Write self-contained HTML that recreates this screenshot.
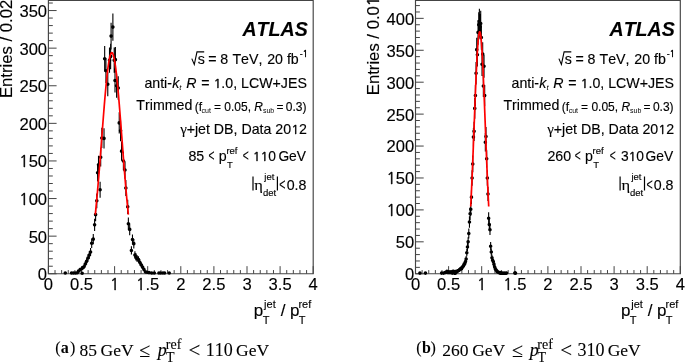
<!DOCTYPE html>
<html><head><meta charset="utf-8"><style>
html,body{margin:0;padding:0;background:#fff;}
svg{display:block;}
text{fill:#000;font-kerning:none;font-variant-ligatures:none;stroke:#000;stroke-width:0.14px;}
.t{font-family:"Liberation Sans",Arial,sans-serif;font-size:16.6px;}
.s{font-family:"Liberation Sans",Arial,sans-serif;}
.i{font-family:"Liberation Sans",Arial,sans-serif;font-style:italic;}
.atlas{font-family:"Liberation Sans",Arial,sans-serif;font-weight:bold;font-style:italic;}
.c,.g{font-family:"Liberation Serif","Times New Roman",serif;stroke-width:0.1px;}
.cb{font-family:"Liberation Serif","Times New Roman",serif;font-weight:bold;stroke:none;}
.ci{font-family:"Liberation Serif","Times New Roman",serif;font-style:italic;}
.one{font-family:NanumGothic,sans-serif;stroke-width:0.45px;font-size:0.925em;}
</style></head><body>
<svg width="685" height="362" viewBox="0 0 685 362">
<rect width="685" height="362" fill="#fff"/>
<path d="M48.4 0.5 H313.2 V273.75 H48.4 Z" fill="none" stroke="#444" stroke-width="1.15"/>
<path d="M48.4 273.75h8.2 M48.4 266.23h4.4 M48.4 258.71h4.4 M48.4 251.19h4.4 M48.4 243.67h4.4 M48.4 236.15h8.2 M48.4 228.63h4.4 M48.4 221.11h4.4 M48.4 213.59h4.4 M48.4 206.07h4.4 M48.4 198.55h8.2 M48.4 191.03h4.4 M48.4 183.51h4.4 M48.4 175.99h4.4 M48.4 168.47h4.4 M48.4 160.95h8.2 M48.4 153.43h4.4 M48.4 145.91h4.4 M48.4 138.39h4.4 M48.4 130.87h4.4 M48.4 123.35h8.2 M48.4 115.83h4.4 M48.4 108.31h4.4 M48.4 100.79h4.4 M48.4 93.27h4.4 M48.4 85.75h8.2 M48.4 78.23h4.4 M48.4 70.71h4.4 M48.4 63.19h4.4 M48.4 55.67h4.4 M48.4 48.15h8.2 M48.4 40.63h4.4 M48.4 33.11h4.4 M48.4 25.59h4.4 M48.4 18.07h4.4 M48.4 10.55h8.2 M48.4 3.03h4.4 M48.4 273.75v-7.6 M55.02 273.75v-3.7 M61.64 273.75v-3.7 M68.26 273.75v-3.7 M74.88 273.75v-3.7 M81.5 273.75v-7.6 M88.12 273.75v-3.7 M94.74 273.75v-3.7 M101.36 273.75v-3.7 M107.98 273.75v-3.7 M114.6 273.75v-7.6 M121.22 273.75v-3.7 M127.84 273.75v-3.7 M134.46 273.75v-3.7 M141.08 273.75v-3.7 M147.7 273.75v-7.6 M154.32 273.75v-3.7 M160.94 273.75v-3.7 M167.56 273.75v-3.7 M174.18 273.75v-3.7 M180.8 273.75v-7.6 M187.42 273.75v-3.7 M194.04 273.75v-3.7 M200.66 273.75v-3.7 M207.28 273.75v-3.7 M213.9 273.75v-7.6 M220.52 273.75v-3.7 M227.14 273.75v-3.7 M233.76 273.75v-3.7 M240.38 273.75v-3.7 M247 273.75v-7.6 M253.62 273.75v-3.7 M260.24 273.75v-3.7 M266.86 273.75v-3.7 M273.48 273.75v-3.7 M280.1 273.75v-7.6 M286.72 273.75v-3.7 M293.34 273.75v-3.7 M299.96 273.75v-3.7 M306.58 273.75v-3.7 M313.2 273.75v-7.6" stroke="#444" stroke-width="1" fill="none"/>
<text x="47.1" y="280.15" text-anchor="end" class="t">0</text>
<text x="47.1" y="242.55" text-anchor="end" class="t">50</text>
<text x="47.1" y="204.95" text-anchor="end" class="t"><tspan class="one">1</tspan>00</text>
<text x="47.1" y="167.35" text-anchor="end" class="t"><tspan class="one">1</tspan>50</text>
<text x="47.1" y="129.75" text-anchor="end" class="t">200</text>
<text x="47.1" y="92.15" text-anchor="end" class="t">250</text>
<text x="47.1" y="54.55" text-anchor="end" class="t">300</text>
<text x="47.1" y="16.95" text-anchor="end" class="t">350</text>
<text x="48.4" y="289.75" text-anchor="middle" class="t">0</text>
<text x="81.5" y="289.75" text-anchor="middle" class="t">0.5</text>
<text x="114.6" y="289.75" text-anchor="middle" class="t"><tspan class="one">1</tspan></text>
<text x="147.7" y="289.75" text-anchor="middle" class="t"><tspan class="one">1</tspan>.5</text>
<text x="180.8" y="289.75" text-anchor="middle" class="t">2</text>
<text x="213.9" y="289.75" text-anchor="middle" class="t">2.5</text>
<text x="247" y="289.75" text-anchor="middle" class="t">3</text>
<text x="280.1" y="289.75" text-anchor="middle" class="t">3.5</text>
<text x="313.2" y="289.75" text-anchor="middle" class="t">4</text>
<path d="M415.5 0.5 H680.3 V273.75 H415.5 Z" fill="none" stroke="#444" stroke-width="1.15"/>
<path d="M415.5 273.75h8.2 M415.5 267.37h4.4 M415.5 260.98h4.4 M415.5 254.59h4.4 M415.5 248.21h4.4 M415.5 241.82h8.2 M415.5 235.44h4.4 M415.5 229.06h4.4 M415.5 222.67h4.4 M415.5 216.28h4.4 M415.5 209.9h8.2 M415.5 203.51h4.4 M415.5 197.13h4.4 M415.5 190.75h4.4 M415.5 184.36h4.4 M415.5 177.98h8.2 M415.5 171.59h4.4 M415.5 165.21h4.4 M415.5 158.82h4.4 M415.5 152.44h4.4 M415.5 146.05h8.2 M415.5 139.67h4.4 M415.5 133.28h4.4 M415.5 126.9h4.4 M415.5 120.51h4.4 M415.5 114.12h8.2 M415.5 107.74h4.4 M415.5 101.36h4.4 M415.5 94.97h4.4 M415.5 88.59h4.4 M415.5 82.2h8.2 M415.5 75.82h4.4 M415.5 69.43h4.4 M415.5 63.05h4.4 M415.5 56.66h4.4 M415.5 50.28h8.2 M415.5 43.89h4.4 M415.5 37.51h4.4 M415.5 31.12h4.4 M415.5 24.74h4.4 M415.5 18.35h8.2 M415.5 11.97h4.4 M415.5 5.58h4.4 M415.5 273.75v-7.6 M422.12 273.75v-3.7 M428.74 273.75v-3.7 M435.36 273.75v-3.7 M441.98 273.75v-3.7 M448.6 273.75v-7.6 M455.22 273.75v-3.7 M461.84 273.75v-3.7 M468.46 273.75v-3.7 M475.08 273.75v-3.7 M481.7 273.75v-7.6 M488.32 273.75v-3.7 M494.94 273.75v-3.7 M501.56 273.75v-3.7 M508.18 273.75v-3.7 M514.8 273.75v-7.6 M521.42 273.75v-3.7 M528.04 273.75v-3.7 M534.66 273.75v-3.7 M541.28 273.75v-3.7 M547.9 273.75v-7.6 M554.52 273.75v-3.7 M561.14 273.75v-3.7 M567.76 273.75v-3.7 M574.38 273.75v-3.7 M581 273.75v-7.6 M587.62 273.75v-3.7 M594.24 273.75v-3.7 M600.86 273.75v-3.7 M607.48 273.75v-3.7 M614.1 273.75v-7.6 M620.72 273.75v-3.7 M627.34 273.75v-3.7 M633.96 273.75v-3.7 M640.58 273.75v-3.7 M647.2 273.75v-7.6 M653.82 273.75v-3.7 M660.44 273.75v-3.7 M667.06 273.75v-3.7 M673.68 273.75v-3.7 M680.3 273.75v-7.6" stroke="#444" stroke-width="1" fill="none"/>
<text x="414.2" y="280.15" text-anchor="end" class="t">0</text>
<text x="414.2" y="248.22" text-anchor="end" class="t">50</text>
<text x="414.2" y="216.3" text-anchor="end" class="t"><tspan class="one">1</tspan>00</text>
<text x="414.2" y="184.38" text-anchor="end" class="t"><tspan class="one">1</tspan>50</text>
<text x="414.2" y="152.45" text-anchor="end" class="t">200</text>
<text x="414.2" y="120.53" text-anchor="end" class="t">250</text>
<text x="414.2" y="88.6" text-anchor="end" class="t">300</text>
<text x="414.2" y="56.68" text-anchor="end" class="t">350</text>
<text x="414.2" y="24.75" text-anchor="end" class="t">400</text>
<text x="415.5" y="289.75" text-anchor="middle" class="t">0</text>
<text x="448.6" y="289.75" text-anchor="middle" class="t">0.5</text>
<text x="481.7" y="289.75" text-anchor="middle" class="t"><tspan class="one">1</tspan></text>
<text x="514.8" y="289.75" text-anchor="middle" class="t"><tspan class="one">1</tspan>.5</text>
<text x="547.9" y="289.75" text-anchor="middle" class="t">2</text>
<text x="581" y="289.75" text-anchor="middle" class="t">2.5</text>
<text x="614.1" y="289.75" text-anchor="middle" class="t">3</text>
<text x="647.2" y="289.75" text-anchor="middle" class="t">3.5</text>
<text x="680.3" y="289.75" text-anchor="middle" class="t">4</text>
<path d="M65.28 272.25V273.75M71.57 272.25V273.75M73.42 272.25V273.75M75.34 272.25V273.75M77.33 271.91V273.63M78.52 269.71V272.52M80.18 267.85V271.38M82.16 272.72V273.75M82.49 266.05V270.17M83.95 264.38V268.99M85.27 261.26V266.69M86.6 258.29V264.4M87.99 254.51V261.4M89.31 251.19V258.71M90.57 247.89V255.99M91.69 238.51V248.08M93.28 234.06V244.26M94.61 218.81V230.93M95.6 207.98V221.31M96.79 193.4V208.21M97.59 163.96V181.4M98.51 155.65V173.77M100.1 181.8V197.7M100.7 147.83V166.55M101.82 127.83V148.04M104.01 128.3V148.48M104.67 45.96V71.4M105.93 58.35V83.07M107.78 72.31V96.18M109.5 47.51V72.85M110.63 43.64V69.21M111.09 22.75V49.49M112.88 13.47V40.71M114.2 47.51V72.85M115 68.43V92.54M115.39 46.97V72.34M116.59 73.86V97.64M118.24 76.19V99.82M119.23 112.25V133.55M120.56 120.5V141.24M121.55 141.57V160.77M123.4 151.74V170.16M124.99 161.14V178.81M125.85 179.99V196.05M127.71 199.73V213.92M128.37 217.61V229.87M129.69 223.61V235.16M131.41 246.25V254.62M132.47 234.46V244.61M133.8 238.91V248.43M134.92 251.19V258.71M135.92 253.26V260.4M137.11 255.35V262.07M138.5 256.18V262.74M139.89 259.56V265.38M141.41 262.55V267.65M142.67 265.17V269.55M143.99 267.76V271.32M145.38 270.68V273.06M147.04 271.18V273.31M149.02 271.7V273.54M151.67 272.25V273.75M154.32 272.25V273.75M158.95 272.25V273.75M160.61 272.25V273.75M162.93 272.25V273.75M164.58 272.25V273.75M169.22 272.25V273.75" stroke="#000" stroke-width="1.1" fill="none"/>
<path d="M63.48 273a1.8 1.8 0 1 0 3.6 0a1.8 1.8 0 1 0 -3.6 0M69.77 273a1.8 1.8 0 1 0 3.6 0a1.8 1.8 0 1 0 -3.6 0M71.62 273a1.8 1.8 0 1 0 3.6 0a1.8 1.8 0 1 0 -3.6 0M73.54 273a1.8 1.8 0 1 0 3.6 0a1.8 1.8 0 1 0 -3.6 0M75.53 272.77a1.8 1.8 0 1 0 3.6 0a1.8 1.8 0 1 0 -3.6 0M76.72 271.12a1.8 1.8 0 1 0 3.6 0a1.8 1.8 0 1 0 -3.6 0M78.38 269.61a1.8 1.8 0 1 0 3.6 0a1.8 1.8 0 1 0 -3.6 0M80.36 273.3a1.8 1.8 0 1 0 3.6 0a1.8 1.8 0 1 0 -3.6 0M80.69 268.11a1.8 1.8 0 1 0 3.6 0a1.8 1.8 0 1 0 -3.6 0M82.15 266.68a1.8 1.8 0 1 0 3.6 0a1.8 1.8 0 1 0 -3.6 0M83.47 263.97a1.8 1.8 0 1 0 3.6 0a1.8 1.8 0 1 0 -3.6 0M84.8 261.34a1.8 1.8 0 1 0 3.6 0a1.8 1.8 0 1 0 -3.6 0M86.19 257.96a1.8 1.8 0 1 0 3.6 0a1.8 1.8 0 1 0 -3.6 0M87.51 254.95a1.8 1.8 0 1 0 3.6 0a1.8 1.8 0 1 0 -3.6 0M88.77 251.94a1.8 1.8 0 1 0 3.6 0a1.8 1.8 0 1 0 -3.6 0M89.89 243.29a1.8 1.8 0 1 0 3.6 0a1.8 1.8 0 1 0 -3.6 0M91.48 239.16a1.8 1.8 0 1 0 3.6 0a1.8 1.8 0 1 0 -3.6 0M92.81 224.87a1.8 1.8 0 1 0 3.6 0a1.8 1.8 0 1 0 -3.6 0M93.8 214.64a1.8 1.8 0 1 0 3.6 0a1.8 1.8 0 1 0 -3.6 0M94.99 200.81a1.8 1.8 0 1 0 3.6 0a1.8 1.8 0 1 0 -3.6 0M95.79 172.68a1.8 1.8 0 1 0 3.6 0a1.8 1.8 0 1 0 -3.6 0M96.71 164.71a1.8 1.8 0 1 0 3.6 0a1.8 1.8 0 1 0 -3.6 0M98.3 189.75a1.8 1.8 0 1 0 3.6 0a1.8 1.8 0 1 0 -3.6 0M98.9 157.19a1.8 1.8 0 1 0 3.6 0a1.8 1.8 0 1 0 -3.6 0M100.02 137.94a1.8 1.8 0 1 0 3.6 0a1.8 1.8 0 1 0 -3.6 0M102.21 138.39a1.8 1.8 0 1 0 3.6 0a1.8 1.8 0 1 0 -3.6 0M102.87 58.68a1.8 1.8 0 1 0 3.6 0a1.8 1.8 0 1 0 -3.6 0M104.13 70.71a1.8 1.8 0 1 0 3.6 0a1.8 1.8 0 1 0 -3.6 0M105.98 84.25a1.8 1.8 0 1 0 3.6 0a1.8 1.8 0 1 0 -3.6 0M107.7 60.18a1.8 1.8 0 1 0 3.6 0a1.8 1.8 0 1 0 -3.6 0M108.83 56.42a1.8 1.8 0 1 0 3.6 0a1.8 1.8 0 1 0 -3.6 0M109.29 36.12a1.8 1.8 0 1 0 3.6 0a1.8 1.8 0 1 0 -3.6 0M111.08 27.09a1.8 1.8 0 1 0 3.6 0a1.8 1.8 0 1 0 -3.6 0M112.4 60.18a1.8 1.8 0 1 0 3.6 0a1.8 1.8 0 1 0 -3.6 0M113.2 80.49a1.8 1.8 0 1 0 3.6 0a1.8 1.8 0 1 0 -3.6 0M113.59 59.66a1.8 1.8 0 1 0 3.6 0a1.8 1.8 0 1 0 -3.6 0M114.79 85.75a1.8 1.8 0 1 0 3.6 0a1.8 1.8 0 1 0 -3.6 0M116.44 88.01a1.8 1.8 0 1 0 3.6 0a1.8 1.8 0 1 0 -3.6 0M117.43 122.9a1.8 1.8 0 1 0 3.6 0a1.8 1.8 0 1 0 -3.6 0M118.76 130.87a1.8 1.8 0 1 0 3.6 0a1.8 1.8 0 1 0 -3.6 0M119.75 151.17a1.8 1.8 0 1 0 3.6 0a1.8 1.8 0 1 0 -3.6 0M121.6 160.95a1.8 1.8 0 1 0 3.6 0a1.8 1.8 0 1 0 -3.6 0M123.19 169.97a1.8 1.8 0 1 0 3.6 0a1.8 1.8 0 1 0 -3.6 0M124.05 188.02a1.8 1.8 0 1 0 3.6 0a1.8 1.8 0 1 0 -3.6 0M125.91 206.82a1.8 1.8 0 1 0 3.6 0a1.8 1.8 0 1 0 -3.6 0M126.57 223.74a1.8 1.8 0 1 0 3.6 0a1.8 1.8 0 1 0 -3.6 0M127.89 229.38a1.8 1.8 0 1 0 3.6 0a1.8 1.8 0 1 0 -3.6 0M129.61 250.44a1.8 1.8 0 1 0 3.6 0a1.8 1.8 0 1 0 -3.6 0M130.67 239.53a1.8 1.8 0 1 0 3.6 0a1.8 1.8 0 1 0 -3.6 0M132 243.67a1.8 1.8 0 1 0 3.6 0a1.8 1.8 0 1 0 -3.6 0M133.12 254.95a1.8 1.8 0 1 0 3.6 0a1.8 1.8 0 1 0 -3.6 0M134.12 256.83a1.8 1.8 0 1 0 3.6 0a1.8 1.8 0 1 0 -3.6 0M135.31 258.71a1.8 1.8 0 1 0 3.6 0a1.8 1.8 0 1 0 -3.6 0M136.7 259.46a1.8 1.8 0 1 0 3.6 0a1.8 1.8 0 1 0 -3.6 0M138.09 262.47a1.8 1.8 0 1 0 3.6 0a1.8 1.8 0 1 0 -3.6 0M139.61 265.1a1.8 1.8 0 1 0 3.6 0a1.8 1.8 0 1 0 -3.6 0M140.87 267.36a1.8 1.8 0 1 0 3.6 0a1.8 1.8 0 1 0 -3.6 0M142.19 269.54a1.8 1.8 0 1 0 3.6 0a1.8 1.8 0 1 0 -3.6 0M143.58 271.87a1.8 1.8 0 1 0 3.6 0a1.8 1.8 0 1 0 -3.6 0M145.24 272.25a1.8 1.8 0 1 0 3.6 0a1.8 1.8 0 1 0 -3.6 0M147.22 272.62a1.8 1.8 0 1 0 3.6 0a1.8 1.8 0 1 0 -3.6 0M149.87 273a1.8 1.8 0 1 0 3.6 0a1.8 1.8 0 1 0 -3.6 0M152.52 273a1.8 1.8 0 1 0 3.6 0a1.8 1.8 0 1 0 -3.6 0M157.15 273a1.8 1.8 0 1 0 3.6 0a1.8 1.8 0 1 0 -3.6 0M158.81 273a1.8 1.8 0 1 0 3.6 0a1.8 1.8 0 1 0 -3.6 0M161.13 273a1.8 1.8 0 1 0 3.6 0a1.8 1.8 0 1 0 -3.6 0M162.78 273a1.8 1.8 0 1 0 3.6 0a1.8 1.8 0 1 0 -3.6 0M167.41 273a1.8 1.8 0 1 0 3.6 0a1.8 1.8 0 1 0 -3.6 0" fill="#000"/>
<path d="M419.94 272.47V273.75M425.43 272.47V273.75M441.65 272.47V273.75M443.63 272.47V273.75M444.96 271.57V273.38M445.62 271.57V273.38M446.94 269.92V272.47M447.61 271.57V273.38M448.27 271.57V273.38M448.93 270.73V272.94M449.59 271.57V273.38M450.25 271.57V273.38M450.92 270.73V272.94M452.24 272.47V273.75M452.9 269.92V272.47M453.56 269.92V272.47M454.23 272.47V273.75M454.89 270.73V272.94M455.55 272.47V273.75M456.21 269.92V272.47M456.88 270.73V272.94M457.54 269.92V272.47M458.2 269.13V271.99M458.86 269.13V271.99M459.52 267.82V271.12M460.19 267.59V270.97M460.85 266.84V270.45M461.51 266.84V270.45M462.17 265.35V269.38M462.83 264.61V268.84M463.5 263.51V268.03M464.16 261.7V266.65M464.82 260.98V266.09M465.48 258.84V264.4M466.14 256V262.13M466.81 249.01V256.35M467.47 242.8V251.07M468.13 237.31V246.34M468.79 228.46V238.59M469.45 216.28V227.78M470.12 207.54V219.92M470.78 202.84V215.68M471.44 190.14V204.12M472.1 170.16V185.79M472.76 155.55V172.3M473.43 127.77V146.45M474.09 121.83V140.9M474.75 98.1V118.65M475.41 84.94V106.27M476.07 61.95V84.58M476.74 37.67V61.6M477.4 42.92V66.57M478.06 19.98V44.81M478.72 12.13V37.34M479.38 8.85V34.23M480.05 14.09V39.21M480.71 10.82V36.1M481.37 25.22V49.79M482.03 52.76V75.89M482.69 42.26V65.95M483.36 75.08V96.98M484.02 54.73V77.75M484.68 84.94V106.27M485.34 133.05V151.38M486 127.11V145.83M486.67 150.25V167.39M487.33 170.16V185.79M487.99 186.8V201.08M488.65 212.24V224.16M489.31 218.98V230.19M489.98 224.39V235M490.64 242.11V250.48M491.3 248.32V255.76M491.96 254.59V260.98M492.62 257.42V263.27M493.29 258.84V264.4M493.95 261.7V266.65M494.61 264.61V268.84M495.27 266.84V270.45M495.93 268.36V271.48M496.6 269.13V271.99M497.26 270.73V272.94M497.92 270.73V272.94M498.58 271.57V273.38M499.24 271.57V273.38M499.9 272.47V273.75M500.57 271.57V273.38M501.23 272.47V273.75M502.55 272.47V273.75M503.22 272.47V273.75M504.54 272.47V273.75M505.86 272.47V273.75M506.52 272.47V273.75M514.8 272.47V273.75M515.46 272.47V273.75" stroke="#000" stroke-width="1.1" fill="none"/>
<path d="M418.14 273.11a1.8 1.8 0 1 0 3.6 0a1.8 1.8 0 1 0 -3.6 0M423.63 273.11a1.8 1.8 0 1 0 3.6 0a1.8 1.8 0 1 0 -3.6 0M439.85 273.11a1.8 1.8 0 1 0 3.6 0a1.8 1.8 0 1 0 -3.6 0M441.83 273.11a1.8 1.8 0 1 0 3.6 0a1.8 1.8 0 1 0 -3.6 0M443.16 272.47a1.8 1.8 0 1 0 3.6 0a1.8 1.8 0 1 0 -3.6 0M443.82 272.47a1.8 1.8 0 1 0 3.6 0a1.8 1.8 0 1 0 -3.6 0M445.14 271.2a1.8 1.8 0 1 0 3.6 0a1.8 1.8 0 1 0 -3.6 0M445.81 272.47a1.8 1.8 0 1 0 3.6 0a1.8 1.8 0 1 0 -3.6 0M446.47 272.47a1.8 1.8 0 1 0 3.6 0a1.8 1.8 0 1 0 -3.6 0M447.13 271.83a1.8 1.8 0 1 0 3.6 0a1.8 1.8 0 1 0 -3.6 0M447.79 272.47a1.8 1.8 0 1 0 3.6 0a1.8 1.8 0 1 0 -3.6 0M448.45 272.47a1.8 1.8 0 1 0 3.6 0a1.8 1.8 0 1 0 -3.6 0M449.12 271.83a1.8 1.8 0 1 0 3.6 0a1.8 1.8 0 1 0 -3.6 0M450.44 273.11a1.8 1.8 0 1 0 3.6 0a1.8 1.8 0 1 0 -3.6 0M451.1 271.2a1.8 1.8 0 1 0 3.6 0a1.8 1.8 0 1 0 -3.6 0M451.76 271.2a1.8 1.8 0 1 0 3.6 0a1.8 1.8 0 1 0 -3.6 0M452.43 273.11a1.8 1.8 0 1 0 3.6 0a1.8 1.8 0 1 0 -3.6 0M453.09 271.83a1.8 1.8 0 1 0 3.6 0a1.8 1.8 0 1 0 -3.6 0M453.75 273.11a1.8 1.8 0 1 0 3.6 0a1.8 1.8 0 1 0 -3.6 0M454.41 271.2a1.8 1.8 0 1 0 3.6 0a1.8 1.8 0 1 0 -3.6 0M455.07 271.83a1.8 1.8 0 1 0 3.6 0a1.8 1.8 0 1 0 -3.6 0M455.74 271.2a1.8 1.8 0 1 0 3.6 0a1.8 1.8 0 1 0 -3.6 0M456.4 270.56a1.8 1.8 0 1 0 3.6 0a1.8 1.8 0 1 0 -3.6 0M457.06 270.56a1.8 1.8 0 1 0 3.6 0a1.8 1.8 0 1 0 -3.6 0M457.72 269.47a1.8 1.8 0 1 0 3.6 0a1.8 1.8 0 1 0 -3.6 0M458.38 269.28a1.8 1.8 0 1 0 3.6 0a1.8 1.8 0 1 0 -3.6 0M459.05 268.64a1.8 1.8 0 1 0 3.6 0a1.8 1.8 0 1 0 -3.6 0M459.71 268.64a1.8 1.8 0 1 0 3.6 0a1.8 1.8 0 1 0 -3.6 0M460.37 267.37a1.8 1.8 0 1 0 3.6 0a1.8 1.8 0 1 0 -3.6 0M461.03 266.73a1.8 1.8 0 1 0 3.6 0a1.8 1.8 0 1 0 -3.6 0M461.69 265.77a1.8 1.8 0 1 0 3.6 0a1.8 1.8 0 1 0 -3.6 0M462.36 264.17a1.8 1.8 0 1 0 3.6 0a1.8 1.8 0 1 0 -3.6 0M463.02 263.53a1.8 1.8 0 1 0 3.6 0a1.8 1.8 0 1 0 -3.6 0M463.68 261.62a1.8 1.8 0 1 0 3.6 0a1.8 1.8 0 1 0 -3.6 0M464.34 259.06a1.8 1.8 0 1 0 3.6 0a1.8 1.8 0 1 0 -3.6 0M465 252.68a1.8 1.8 0 1 0 3.6 0a1.8 1.8 0 1 0 -3.6 0M465.67 246.93a1.8 1.8 0 1 0 3.6 0a1.8 1.8 0 1 0 -3.6 0M466.33 241.82a1.8 1.8 0 1 0 3.6 0a1.8 1.8 0 1 0 -3.6 0M466.99 233.52a1.8 1.8 0 1 0 3.6 0a1.8 1.8 0 1 0 -3.6 0M467.65 222.03a1.8 1.8 0 1 0 3.6 0a1.8 1.8 0 1 0 -3.6 0M468.31 213.73a1.8 1.8 0 1 0 3.6 0a1.8 1.8 0 1 0 -3.6 0M468.98 209.26a1.8 1.8 0 1 0 3.6 0a1.8 1.8 0 1 0 -3.6 0M469.64 197.13a1.8 1.8 0 1 0 3.6 0a1.8 1.8 0 1 0 -3.6 0M470.3 177.98a1.8 1.8 0 1 0 3.6 0a1.8 1.8 0 1 0 -3.6 0M470.96 163.93a1.8 1.8 0 1 0 3.6 0a1.8 1.8 0 1 0 -3.6 0M471.62 137.11a1.8 1.8 0 1 0 3.6 0a1.8 1.8 0 1 0 -3.6 0M472.29 131.36a1.8 1.8 0 1 0 3.6 0a1.8 1.8 0 1 0 -3.6 0M472.95 108.38a1.8 1.8 0 1 0 3.6 0a1.8 1.8 0 1 0 -3.6 0M473.61 95.61a1.8 1.8 0 1 0 3.6 0a1.8 1.8 0 1 0 -3.6 0M474.27 73.26a1.8 1.8 0 1 0 3.6 0a1.8 1.8 0 1 0 -3.6 0M474.94 49.64a1.8 1.8 0 1 0 3.6 0a1.8 1.8 0 1 0 -3.6 0M475.6 54.74a1.8 1.8 0 1 0 3.6 0a1.8 1.8 0 1 0 -3.6 0M476.26 32.4a1.8 1.8 0 1 0 3.6 0a1.8 1.8 0 1 0 -3.6 0M476.92 24.74a1.8 1.8 0 1 0 3.6 0a1.8 1.8 0 1 0 -3.6 0M477.58 21.54a1.8 1.8 0 1 0 3.6 0a1.8 1.8 0 1 0 -3.6 0M478.25 26.65a1.8 1.8 0 1 0 3.6 0a1.8 1.8 0 1 0 -3.6 0M478.91 23.46a1.8 1.8 0 1 0 3.6 0a1.8 1.8 0 1 0 -3.6 0M479.57 37.51a1.8 1.8 0 1 0 3.6 0a1.8 1.8 0 1 0 -3.6 0M480.23 64.32a1.8 1.8 0 1 0 3.6 0a1.8 1.8 0 1 0 -3.6 0M480.89 54.11a1.8 1.8 0 1 0 3.6 0a1.8 1.8 0 1 0 -3.6 0M481.56 86.03a1.8 1.8 0 1 0 3.6 0a1.8 1.8 0 1 0 -3.6 0M482.22 66.24a1.8 1.8 0 1 0 3.6 0a1.8 1.8 0 1 0 -3.6 0M482.88 95.61a1.8 1.8 0 1 0 3.6 0a1.8 1.8 0 1 0 -3.6 0M483.54 142.22a1.8 1.8 0 1 0 3.6 0a1.8 1.8 0 1 0 -3.6 0M484.2 136.47a1.8 1.8 0 1 0 3.6 0a1.8 1.8 0 1 0 -3.6 0M484.87 158.82a1.8 1.8 0 1 0 3.6 0a1.8 1.8 0 1 0 -3.6 0M485.53 177.98a1.8 1.8 0 1 0 3.6 0a1.8 1.8 0 1 0 -3.6 0M486.19 193.94a1.8 1.8 0 1 0 3.6 0a1.8 1.8 0 1 0 -3.6 0M486.85 218.2a1.8 1.8 0 1 0 3.6 0a1.8 1.8 0 1 0 -3.6 0M487.51 224.59a1.8 1.8 0 1 0 3.6 0a1.8 1.8 0 1 0 -3.6 0M488.18 229.69a1.8 1.8 0 1 0 3.6 0a1.8 1.8 0 1 0 -3.6 0M488.84 246.29a1.8 1.8 0 1 0 3.6 0a1.8 1.8 0 1 0 -3.6 0M489.5 252.04a1.8 1.8 0 1 0 3.6 0a1.8 1.8 0 1 0 -3.6 0M490.16 257.79a1.8 1.8 0 1 0 3.6 0a1.8 1.8 0 1 0 -3.6 0M490.82 260.34a1.8 1.8 0 1 0 3.6 0a1.8 1.8 0 1 0 -3.6 0M491.49 261.62a1.8 1.8 0 1 0 3.6 0a1.8 1.8 0 1 0 -3.6 0M492.15 264.17a1.8 1.8 0 1 0 3.6 0a1.8 1.8 0 1 0 -3.6 0M492.81 266.73a1.8 1.8 0 1 0 3.6 0a1.8 1.8 0 1 0 -3.6 0M493.47 268.64a1.8 1.8 0 1 0 3.6 0a1.8 1.8 0 1 0 -3.6 0M494.13 269.92a1.8 1.8 0 1 0 3.6 0a1.8 1.8 0 1 0 -3.6 0M494.8 270.56a1.8 1.8 0 1 0 3.6 0a1.8 1.8 0 1 0 -3.6 0M495.46 271.83a1.8 1.8 0 1 0 3.6 0a1.8 1.8 0 1 0 -3.6 0M496.12 271.83a1.8 1.8 0 1 0 3.6 0a1.8 1.8 0 1 0 -3.6 0M496.78 272.47a1.8 1.8 0 1 0 3.6 0a1.8 1.8 0 1 0 -3.6 0M497.44 272.47a1.8 1.8 0 1 0 3.6 0a1.8 1.8 0 1 0 -3.6 0M498.1 273.11a1.8 1.8 0 1 0 3.6 0a1.8 1.8 0 1 0 -3.6 0M498.77 272.47a1.8 1.8 0 1 0 3.6 0a1.8 1.8 0 1 0 -3.6 0M499.43 273.11a1.8 1.8 0 1 0 3.6 0a1.8 1.8 0 1 0 -3.6 0M500.75 273.11a1.8 1.8 0 1 0 3.6 0a1.8 1.8 0 1 0 -3.6 0M501.42 273.11a1.8 1.8 0 1 0 3.6 0a1.8 1.8 0 1 0 -3.6 0M502.74 273.11a1.8 1.8 0 1 0 3.6 0a1.8 1.8 0 1 0 -3.6 0M504.06 273.11a1.8 1.8 0 1 0 3.6 0a1.8 1.8 0 1 0 -3.6 0M504.72 273.11a1.8 1.8 0 1 0 3.6 0a1.8 1.8 0 1 0 -3.6 0M513 273.11a1.8 1.8 0 1 0 3.6 0a1.8 1.8 0 1 0 -3.6 0M513.66 273.11a1.8 1.8 0 1 0 3.6 0a1.8 1.8 0 1 0 -3.6 0" fill="#000"/>
<polyline points="95.27,214.55 95.55,211.92 95.82,209.21 96.1,206.44 96.37,203.59 96.65,200.69 96.92,197.71 97.2,194.67 97.48,191.58 97.75,188.42 98.03,185.21 98.3,181.94 98.58,178.62 98.86,175.25 99.13,171.84 99.41,168.39 99.68,164.9 99.96,161.38 100.23,157.83 100.51,154.25 100.79,150.66 101.06,147.05 101.34,143.43 101.61,139.8 101.89,136.17 102.17,132.55 102.44,128.94 102.72,125.34 102.99,121.77 103.27,118.22 103.54,114.71 103.82,111.24 104.1,107.81 104.37,104.44 104.65,101.12 104.92,97.87 105.2,94.69 105.48,91.58 105.75,88.56 106.03,85.62 106.3,82.77 106.58,80.03 106.85,77.39 107.13,74.85 107.41,72.44 107.68,70.14 107.96,67.97 108.23,65.92 108.51,64.01 108.79,62.24 109.06,60.61 109.34,59.12 109.61,57.78 109.89,56.59 110.16,55.56 110.44,54.68 110.72,53.95 110.99,53.39 111.27,52.99 111.54,52.74 111.82,52.66 112.1,52.74 112.37,52.99 112.65,53.39 112.92,53.95 113.2,54.68 113.47,55.56 113.75,56.59 114.03,57.78 114.3,59.12 114.58,60.61 114.85,62.24 115.13,64.01 115.41,65.92 115.68,67.97 115.96,70.14 116.23,72.44 116.51,74.85 116.78,77.39 117.06,80.03 117.34,82.77 117.61,85.62 117.89,88.56 118.16,91.58 118.44,94.69 118.72,97.87 118.99,101.12 119.27,104.44 119.54,107.81 119.82,111.24 120.09,114.71 120.37,118.22 120.65,121.77 120.92,125.34 121.2,128.94 121.47,132.55 121.75,136.17 122.03,139.8 122.3,143.43 122.58,147.05 122.85,150.66 123.13,154.25 123.4,157.83 123.68,161.38 123.96,164.9 124.23,168.39 124.51,171.84 124.78,175.25 125.06,178.62 125.34,181.94 125.61,185.21 125.89,188.42 126.16,191.58 126.44,194.67 126.71,197.71 126.99,200.69 127.27,203.59 127.54,206.44 127.82,209.21 128.09,211.92 128.37,214.55" fill="none" stroke="#f00" stroke-width="1.7" stroke-linejoin="round"/>
<polyline points="470.71,206.47 470.86,203.56 471.01,200.58 471.16,197.52 471.31,194.4 471.46,191.2 471.61,187.94 471.76,184.62 471.91,181.22 472.06,177.77 472.21,174.26 472.36,170.7 472.51,167.08 472.66,163.42 472.81,159.71 472.96,155.96 473.11,152.17 473.26,148.35 473.41,144.51 473.56,140.63 473.71,136.75 473.86,132.84 474.01,128.93 474.16,125.02 474.31,121.11 474.46,117.2 474.61,113.32 474.76,109.45 474.91,105.61 475.06,101.8 475.21,98.03 475.36,94.3 475.51,90.63 475.66,87.01 475.81,83.46 475.96,79.98 476.11,76.57 476.26,73.25 476.41,70.02 476.56,66.88 476.71,63.84 476.86,60.91 477.01,58.09 477.16,55.39 477.31,52.81 477.46,50.36 477.61,48.05 477.76,45.87 477.91,43.84 478.06,41.95 478.21,40.21 478.36,38.63 478.51,37.2 478.66,35.94 478.81,34.84 478.96,33.9 479.11,33.13 479.26,32.53 479.41,32.1 479.56,31.84 479.71,31.76 479.86,31.84 480.01,32.1 480.16,32.53 480.31,33.13 480.46,33.9 480.61,34.84 480.76,35.94 480.91,37.2 481.06,38.63 481.21,40.21 481.36,41.95 481.51,43.84 481.66,45.87 481.81,48.05 481.96,50.36 482.11,52.81 482.26,55.39 482.41,58.09 482.57,60.91 482.72,63.84 482.87,66.88 483.02,70.02 483.17,73.25 483.32,76.57 483.47,79.98 483.62,83.46 483.77,87.01 483.92,90.63 484.07,94.3 484.22,98.03 484.37,101.8 484.52,105.61 484.67,109.45 484.82,113.32 484.97,117.2 485.12,121.11 485.27,125.02 485.42,128.93 485.57,132.84 485.72,136.75 485.87,140.63 486.02,144.51 486.17,148.35 486.32,152.17 486.47,155.96 486.62,159.71 486.77,163.42 486.92,167.08 487.07,170.7 487.22,174.26 487.37,177.77 487.52,181.22 487.67,184.62 487.82,187.94 487.97,191.2 488.12,194.4 488.27,197.52 488.42,200.58 488.57,203.56 488.72,206.47" fill="none" stroke="#f00" stroke-width="1.7" stroke-linejoin="round"/>
<text x="242.40" y="35.60" font-size="19.6" class="atlas">ATLAS</text>
<text x="197.65" y="63.90" font-size="14.2" class="s">s</text>
<text x="208.30" y="63.90" font-size="14.2" class="s">=</text>
<text x="220.30" y="63.90" font-size="14.2" class="s">8</text>
<text x="232.45" y="63.90" font-size="14.2" class="s">TeV,</text>
<text x="267.20" y="63.90" font-size="14.2" class="s">20</text>
<text x="286.90" y="63.90" font-size="14.2" class="s">fb</text>
<text x="299.65" y="57.20" font-size="9" class="s">-<tspan class="one">1</tspan></text>
<text x="144.40" y="87.60" font-size="14.2" class="s">anti-</text>
<text x="172.25" y="87.60" font-size="14.2" class="i">k</text>
<text x="179.35" y="90.40" font-size="7.9" class="i" style="stroke:none">t</text>
<text x="186.25" y="87.60" font-size="14.2" class="i">R</text>
<text x="201.15" y="87.60" font-size="14.2" class="s">= <tspan class="one">1</tspan>.0, LCW+JES</text>
<text x="136.35" y="110.30" font-size="14.2" class="s">Trimmed</text>
<text x="194.65" y="110.60" font-size="12" class="s">(f</text>
<text x="201.55" y="112.60" font-size="7" class="s" style="stroke:none">cut</text>
<text x="214.00" y="110.60" font-size="12" class="s">=</text>
<text x="224.35" y="110.60" font-size="12" class="s">0.05,</text>
<text x="254.35" y="110.60" font-size="12" class="i">R</text>
<text x="262.90" y="112.60" font-size="7" class="s" style="stroke:none">sub</text>
<text x="276.40" y="110.60" font-size="12" class="s">=</text>
<text x="285.80" y="110.60" font-size="12" class="s">0.3)</text>
<text x="180.25" y="134.30" font-size="15" class="g">γ</text>
<text x="186.65" y="134.30" font-size="14.2" class="s">+jet DB, Data 20<tspan class="one">1</tspan>2</text>
<text x="188.40" y="160.90" font-size="14.2" class="s">85</text>
<text transform="translate(208.54,161.30) scale(0.72,1.15)" font-size="14.2" class="s">&lt;</text>
<text x="218.85" y="160.90" font-size="14.2" class="s">p</text>
<text x="226.40" y="154.40" font-size="9.5" class="s">ref</text>
<text x="227.10" y="167.80" font-size="9.5" class="s">T</text>
<text transform="translate(242.74,161.30) scale(0.72,1.15)" font-size="14.2" class="s">&lt;</text>
<text x="252.80" y="160.90" font-size="13.8" class="s"><tspan class="one">1</tspan><tspan class="one">1</tspan>0</text>
<text x="278.40" y="160.90" font-size="13.8" class="s">GeV</text>
<text transform="translate(254.30,190.20) scale(1.1,1.0)" font-size="15" class="g">η</text>
<text x="264.35" y="179.60" font-size="9.5" class="s">jet</text>
<text x="262.95" y="196.40" font-size="9.5" class="s">det</text>
<text transform="translate(279.32,190.20) scale(0.75,1.1)" font-size="14.2" class="s">&lt;</text>
<text x="286.65" y="190.20" font-size="14.2" class="s">0.8</text>
<text x="609.50" y="35.60" font-size="19.6" class="atlas">ATLAS</text>
<text x="564.75" y="63.90" font-size="14.2" class="s">s</text>
<text x="575.40" y="63.90" font-size="14.2" class="s">=</text>
<text x="587.40" y="63.90" font-size="14.2" class="s">8</text>
<text x="599.55" y="63.90" font-size="14.2" class="s">TeV,</text>
<text x="634.30" y="63.90" font-size="14.2" class="s">20</text>
<text x="654.00" y="63.90" font-size="14.2" class="s">fb</text>
<text x="666.75" y="57.20" font-size="9" class="s">-<tspan class="one">1</tspan></text>
<text x="511.50" y="87.60" font-size="14.2" class="s">anti-</text>
<text x="539.35" y="87.60" font-size="14.2" class="i">k</text>
<text x="546.45" y="90.40" font-size="7.9" class="i" style="stroke:none">t</text>
<text x="553.35" y="87.60" font-size="14.2" class="i">R</text>
<text x="568.25" y="87.60" font-size="14.2" class="s">= <tspan class="one">1</tspan>.0, LCW+JES</text>
<text x="503.45" y="110.30" font-size="14.2" class="s">Trimmed</text>
<text x="561.75" y="110.60" font-size="12" class="s">(f</text>
<text x="568.65" y="112.60" font-size="7" class="s" style="stroke:none">cut</text>
<text x="581.10" y="110.60" font-size="12" class="s">=</text>
<text x="591.45" y="110.60" font-size="12" class="s">0.05,</text>
<text x="621.45" y="110.60" font-size="12" class="i">R</text>
<text x="630.00" y="112.60" font-size="7" class="s" style="stroke:none">sub</text>
<text x="643.50" y="110.60" font-size="12" class="s">=</text>
<text x="652.90" y="110.60" font-size="12" class="s">0.3)</text>
<text x="547.35" y="134.30" font-size="15" class="g">γ</text>
<text x="553.75" y="134.30" font-size="14.2" class="s">+jet DB, Data 20<tspan class="one">1</tspan>2</text>
<text x="547.40" y="160.90" font-size="14.2" class="s">260</text>
<text transform="translate(574.64,161.30) scale(0.72,1.15)" font-size="14.2" class="s">&lt;</text>
<text x="584.95" y="160.90" font-size="14.2" class="s">p</text>
<text x="592.50" y="154.40" font-size="9.5" class="s">ref</text>
<text x="593.20" y="167.80" font-size="9.5" class="s">T</text>
<text transform="translate(609.84,161.30) scale(0.72,1.15)" font-size="14.2" class="s">&lt;</text>
<text x="620.90" y="160.90" font-size="13.8" class="s">3<tspan class="one">1</tspan>0</text>
<text x="645.50" y="160.90" font-size="13.8" class="s">GeV</text>
<text transform="translate(621.40,190.20) scale(1.1,1.0)" font-size="15" class="g">η</text>
<text x="631.45" y="179.60" font-size="9.5" class="s">jet</text>
<text x="630.05" y="196.40" font-size="9.5" class="s">det</text>
<text transform="translate(646.42,190.20) scale(0.75,1.1)" font-size="14.2" class="s">&lt;</text>
<text x="653.75" y="190.20" font-size="14.2" class="s">0.8</text>
<text x="253.80" y="316.30" font-size="17" class="s">p</text>
<text x="264.10" y="307.80" font-size="11" class="s">jet</text>
<text x="262.65" y="323.90" font-size="11" class="s">T</text>
<text x="280.70" y="316.30" font-size="17" class="s">/</text>
<text x="289.90" y="316.30" font-size="17" class="s">p</text>
<text x="298.40" y="307.80" font-size="11" class="s">ref</text>
<text x="298.65" y="323.90" font-size="11" class="s">T</text>
<text x="620.90" y="316.30" font-size="17" class="s">p</text>
<text x="631.20" y="307.80" font-size="11" class="s">jet</text>
<text x="629.75" y="323.90" font-size="11" class="s">T</text>
<text x="647.80" y="316.30" font-size="17" class="s">/</text>
<text x="657.00" y="316.30" font-size="17" class="s">p</text>
<text x="665.50" y="307.80" font-size="11" class="s">ref</text>
<text x="665.75" y="323.90" font-size="11" class="s">T</text>
<text x="55.30" y="353.00" font-size="16" class="c">(</text>
<text x="60.70" y="353.00" font-size="16" class="cb">a</text>
<text x="70.10" y="353.00" font-size="16" class="c">)</text>
<text x="79.60" y="355.80" font-size="17.5" class="c">85</text>
<text x="100.60" y="355.80" font-size="17.5" class="c">GeV</text>
<text x="139.35" y="357.00" font-size="20" class="c">≤</text>
<text x="157.65" y="355.80" font-size="18" class="ci">p</text>
<text x="165.85" y="349.00" font-size="14" class="c">ref</text>
<text x="166.05" y="361.60" font-size="14" class="c">T</text>
<text x="188.50" y="356.80" font-size="21" class="c">&lt;</text>
<text x="205.80" y="355.80" font-size="18" class="c">110</text>
<text x="236.10" y="355.80" font-size="17.5" class="c">GeV</text>
<text x="416.20" y="353.00" font-size="16" class="c">(</text>
<text x="422.10" y="353.00" font-size="16" class="cb">b</text>
<text x="430.60" y="353.00" font-size="16" class="c">)</text>
<text x="442.15" y="355.80" font-size="17.5" class="c">260</text>
<text x="472.20" y="355.80" font-size="17.5" class="c">GeV</text>
<text x="512.05" y="357.00" font-size="20" class="c">≤</text>
<text x="529.85" y="355.80" font-size="18" class="ci">p</text>
<text x="537.35" y="349.00" font-size="14" class="c">ref</text>
<text x="537.55" y="361.60" font-size="14" class="c">T</text>
<text x="560.20" y="356.80" font-size="21" class="c">&lt;</text>
<text x="577.45" y="355.80" font-size="18" class="c">310</text>
<text x="607.70" y="355.80" font-size="17.5" class="c">GeV</text>
<path d="M191.8 58.6 L194.3 64.4 L197.0 51.9 H204.2" fill="none" stroke="#000" stroke-width="1.1"/>
<path d="M253.0 176.6V190.6M277.4 176.6V190.6" stroke="#000" stroke-width="1.2"/>
<text transform="translate(12.0,98.1) rotate(-90)" font-size="16.7" class="s">Entries / 0.02</text>
<path d="M558.9 58.6 L561.4 64.4 L564.1 51.9 H571.3" fill="none" stroke="#000" stroke-width="1.1"/>
<path d="M620.1 176.6V190.6M644.5 176.6V190.6" stroke="#000" stroke-width="1.2"/>
<text transform="translate(379.1,95.2) rotate(-90)" font-size="16.7" class="s">Entries / 0.0<tspan class="one">1</tspan></text>
</svg>
</body></html>
